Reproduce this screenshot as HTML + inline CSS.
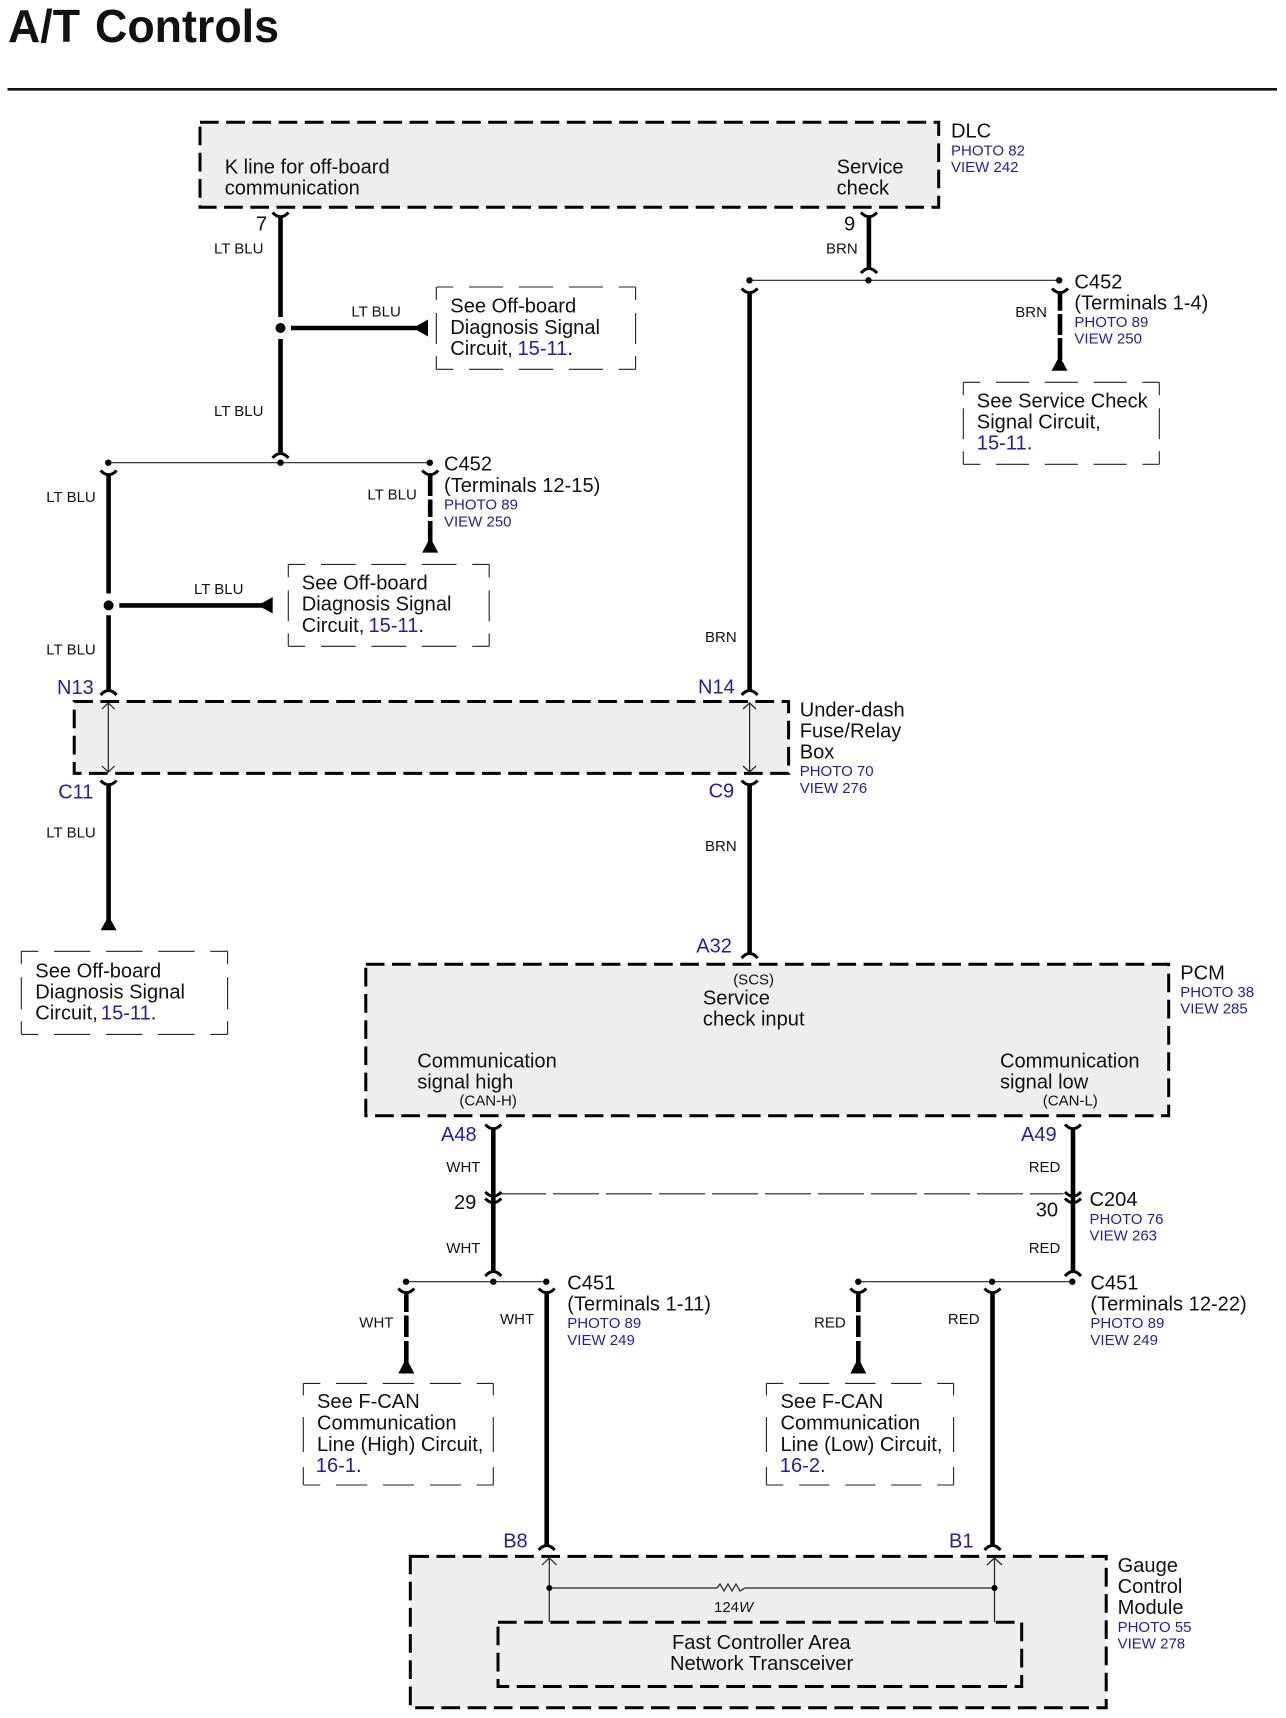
<!DOCTYPE html>
<html><head><meta charset="utf-8"><style>
html,body{margin:0;padding:0;background:#fff}
svg{display:block}
text{font-family:"Liberation Sans",sans-serif;fill:#111}
.t{font-size:46px;font-weight:bold}
.m{font-size:20.1px}
.s{font-size:15px;transform:translateY(-0.8px)}
.b{font-size:15px;fill:#1f1fa8}
.n{font-size:20px;fill:#1f1fa8}
tspan.l{fill:#1f1fa8}
.box{fill:#eee;stroke:#000;stroke-width:3;stroke-dasharray:18.7 7.5}
.note{fill:none;stroke:#222;stroke-width:1.1}
.w{stroke:#000;stroke-width:4.6;fill:none}
.c{stroke:#000;stroke-width:3;fill:none}
.h{stroke:#222;stroke-width:1.2;fill:none}
</style></head><body>
<svg width="1286" height="1718" viewBox="0 0 1286 1718" xmlns="http://www.w3.org/2000/svg">
<rect width="1286" height="1718" fill="#fff"/>
<text class="t" x="8" y="42" textLength="72" lengthAdjust="spacingAndGlyphs">A/T</text>
<text class="t" x="95" y="42" textLength="184" lengthAdjust="spacingAndGlyphs">Controls</text>
<line x1="7.5" y1="89.3" x2="1277" y2="89.3" stroke="#111" stroke-width="2.6"/>

<!-- boxes -->
<rect class="box" x="200" y="122.3" width="738.7" height="85"/>
<rect class="box" x="74.2" y="701.5" width="714.4" height="71.9"/>
<rect class="box" x="365.8" y="964.3" width="802.9" height="151.4"/>
<rect class="box" x="410.3" y="1556.4" width="695.9" height="151.4"/>
<rect class="box" x="498" y="1622.3" width="523.7" height="64.2"/>

<!-- note boxes -->
<path class="note" stroke-dasharray="17 15.7 34.2 15.7 34.2 15.7 34.2 15.7 30" d="M436.3 287H635.6M436.3 369.3H635.6"/>
<path class="note" stroke-dasharray="13 13 31 12 20" d="M436.3 287V369.3M635.6 287V369.3"/>
<path class="note" stroke-dasharray="17 15.7 33.1 15.7 33.1 15.7 33.1 15.7 30" d="M963.3 382.3H1159.3M963.3 464.3H1159.3"/>
<path class="note" stroke-dasharray="13 13 31 12 20" d="M963.3 382.3V464.3M1159.3 382.3V464.3"/>
<path class="note" stroke-dasharray="17 15.7 34.7 15.7 34.7 15.7 34.7 15.7 30" d="M288.3 564.4H489.2M288.3 646.3H489.2"/>
<path class="note" stroke-dasharray="13 13 31 12 20" d="M288.3 564.4V646.3M489.2 564.4V646.3"/>
<path class="note" stroke-dasharray="17 15.7 36.4 15.7 36.4 15.7 36.4 15.7 30" d="M21.3 951.3H227.6M21.3 1034.4H227.6"/>
<path class="note" stroke-dasharray="13 13 32 12 20" d="M21.3 951.3V1034.4M227.6 951.3V1034.4"/>
<path class="note" stroke-dasharray="17 15.7 31.2 15.7 31.2 15.7 31.2 15.7 30" d="M303.3 1383.4H493.3M303.3 1485H493.3"/>
<path class="note" stroke-dasharray="12 21.7 35 15 25" d="M303.3 1383.4V1485M493.3 1383.4V1485"/>
<path class="note" stroke-dasharray="17 15.7 30.3 15.7 30.3 15.7 30.3 15.7 30" d="M766.4 1383.4H953.6M766.4 1485H953.6"/>
<path class="note" stroke-dasharray="12 21.7 35 15 25" d="M766.4 1383.4V1485M953.6 1383.4V1485"/>

<!-- thin lines -->
<path class="h" d="M108.3 462.7H429.8M749.6 280.3H1059.2M406 1281.7H546.3M858.3 1281.7H1072.3"/>
<path class="h" stroke-width="0.9" stroke-dasharray="46 7" d="M500 1193.8H1063.6"/>
<path class="h" d="M108.3 703V772M102 709L108.3 703L114.6 709M102 766L108.3 772L114.6 766"/>
<path class="h" d="M749.6 703V772M743 709L749.6 703L756 709M743 766L749.6 772L756 766"/>
<path class="h" d="M549.3 1558V1622M542 1565L549.3 1558L556.6 1565M994.5 1558V1622M987 1565L994.5 1558L1002 1565"/>
<path class="h" d="M549.3 1588H717L720 1584L724 1591L728 1584L732 1591L736 1584L740 1591L745 1588H994.5"/>

<!-- dots -->
<g fill="#000">
<circle cx="280.5" cy="328" r="5"/><circle cx="108.6" cy="605.4" r="5"/>
<circle cx="280.5" cy="462.7" r="3.2"/><circle cx="108.3" cy="462.7" r="3.2"/><circle cx="429.8" cy="462.7" r="3.2"/>
<circle cx="749.4" cy="280.3" r="3.2"/><circle cx="868.5" cy="280.3" r="3.2"/><circle cx="1059.2" cy="280.3" r="3.2"/>
<circle cx="406" cy="1281.7" r="3.2"/><circle cx="493.3" cy="1281.7" r="3.2"/><circle cx="546.3" cy="1281.7" r="3.2"/>
<circle cx="858.3" cy="1281.7" r="3.2"/><circle cx="992.1" cy="1281.7" r="3.2"/><circle cx="1072.3" cy="1281.7" r="3.2"/>
<circle cx="549.3" cy="1588" r="3"/><circle cx="994.5" cy="1588" r="3"/>
<!-- triangles -->
<polygon points="413,328 428,319.5 428,336.5"/>
<polygon points="258,605.4 272.7,597 272.7,613.5"/>
<polygon points="430.2,537.5 422.2,552.6 438.2,552.6"/>
<polygon points="1059.5,356 1051.5,370.7 1067.5,370.7"/>
<polygon points="108.6,916 100.6,930.3 116.6,930.3"/>
<polygon points="406.3,1358 398.3,1373.5 414.3,1373.5"/>
<polygon points="858.3,1358 850.3,1373.5 866.3,1373.5"/>
</g>

<!-- heavy wires -->
<path class="w" d="M280.5 218V317M280.5 339V455"/>
<path class="w" d="M291 328H418"/>
<path class="w" d="M868.9 218V270"/>
<path class="w" d="M108.6 475V593.5M108.6 615.3V692M119.3 605.4H263"/>
<path class="w" d="M108.6 786V923"/>
<path class="w" d="M749.6 293V692M749.6 786V955"/>
<path class="w" d="M430.2 475V496M430.2 499.5V517M430.2 521V542"/>
<path class="w" d="M1060 293V310.7M1060 314V335M1060 338V360"/>
<path class="w" d="M493.3 1130V1273"/>
<path class="w" d="M1073 1130V1273"/>
<path class="w" d="M406.3 1293V1312M406.3 1315.5V1337M406.3 1341V1363"/>
<path class="w" d="M858.3 1293V1312M858.3 1315.5V1337M858.3 1341V1363"/>
<path class="w" d="M546.7 1294V1547M992.5 1294V1547"/>

<!-- connector caps: Y / arc -->
<path class="c" d="M272.5 212.5Q280.5 221 288.5 212.5M861 212.5Q869 221 877 212.5"/>
<path class="c" d="M272.5 458Q280.5 449 288.5 458M861 273Q869 264 877 273"/>
<path class="c" d="M100.6 470.5Q108.6 479 116.6 470.5M422.2 470.5Q430.2 479 438.2 470.5M741.6 288.5Q749.6 297 757.6 288.5M1052 288.5Q1060 297 1068 288.5"/>
<path class="c" d="M100.6 695Q108.6 686 116.6 695M741.6 695Q749.6 686 757.6 695"/>
<path class="c" d="M100.6 780.5Q108.6 789 116.6 780.5M741.6 780.5Q749.6 789 757.6 780.5"/>
<path class="c" d="M741.6 958Q749.6 949 757.6 958"/>
<path class="c" d="M485.3 1124.5Q493.3 1133 501.3 1124.5M1065 1124.5Q1073 1133 1081 1124.5"/>
<path class="c" d="M485.3 1192Q493.3 1200.5 501.3 1192M485.3 1198.5Q493.3 1207 501.3 1198.5M1065 1192Q1073 1200.5 1081 1192M1065 1198.5Q1073 1207 1081 1198.5"/>
<path class="c" d="M485.3 1276Q493.3 1267 501.3 1276M1065 1276Q1073 1267 1081 1276"/>
<path class="c" d="M398.3 1288.5Q406.3 1297 414.3 1288.5M538.7 1288.5Q546.7 1297 554.7 1288.5M850.3 1288.5Q858.3 1297 866.3 1288.5M984.5 1288.5Q992.5 1297 1000.5 1288.5"/>
<path class="c" d="M538.7 1550Q546.7 1541 554.7 1550M984.5 1550Q992.5 1541 1000.5 1550"/>

<!-- text: DLC -->
<text class="m" x="224.7" y="173.3">K line for off-board</text>
<text class="m" x="224.7" y="194.3">communication</text>
<text class="m" x="836.6" y="173.3">Service</text>
<text class="m" x="836.6" y="194.3">check</text>
<text class="m" x="951" y="137.7">DLC</text>
<text class="b" x="951" y="155.3">PHOTO 82</text>
<text class="b" x="951" y="172">VIEW 242</text>
<text class="m" x="256" y="230.7">7</text>
<text class="m" x="844" y="230.7">9</text>
<text class="s" x="214" y="254.3">LT BLU</text>
<text class="s" x="826" y="254.3">BRN</text>
<text class="s" x="351.4" y="317.3">LT BLU</text>
<text class="s" x="214" y="416.7">LT BLU</text>

<text class="m" x="450.3" y="312.7">See Off-board</text>
<text class="m" x="450.3" y="334">Diagnosis Signal</text>
<text class="m" x="450.3" y="355">Circuit,<tspan class="l" x="517.5">15-11</tspan>.</text>

<text class="m" x="1074.4" y="288.3">C452</text>
<text class="m" x="1074.4" y="309.7">(Terminals 1-4)</text>
<text class="b" x="1074.4" y="327">PHOTO 89</text>
<text class="b" x="1074.4" y="343.7">VIEW 250</text>
<text class="s" x="1015.3" y="317.7">BRN</text>
<text class="m" x="976.8" y="407.3">See Service Check</text>
<text class="m" x="976.8" y="428.3">Signal Circuit,</text>
<text class="m" x="976.8" y="449.3"><tspan class="l">15-11</tspan>.</text>

<text class="m" x="444" y="470.7">C452</text>
<text class="m" x="444" y="492">(Terminals 12-15)</text>
<text class="b" x="444" y="509.3">PHOTO 89</text>
<text class="b" x="444" y="526.5">VIEW 250</text>
<text class="s" x="46.3" y="502.8">LT BLU</text>
<text class="s" x="367.4" y="500.5">LT BLU</text>
<text class="s" x="194" y="594.7">LT BLU</text>
<text class="s" x="46.3" y="655.5">LT BLU</text>
<text class="s" x="46.3" y="838.4">LT BLU</text>
<text class="s" x="705" y="643">BRN</text>
<text class="s" x="705" y="851.7">BRN</text>

<text class="m" x="301.8" y="589.7">See Off-board</text>
<text class="m" x="301.8" y="610.7">Diagnosis Signal</text>
<text class="m" x="301.8" y="631.8">Circuit,<tspan class="l" x="368.5">15-11</tspan>.</text>

<text class="n" x="57" y="693.8">N13</text>
<text class="n" x="698" y="693.3">N14</text>
<text class="n" x="58.2" y="798.3">C11</text>
<text class="n" x="708.6" y="797.7">C9</text>
<text class="n" x="696.3" y="952.7">A32</text>

<text class="m" x="799.7" y="716.3">Under-dash</text>
<text class="m" x="799.7" y="737.3">Fuse/Relay</text>
<text class="m" x="799.7" y="758.3">Box</text>
<text class="b" x="799.7" y="776">PHOTO 70</text>
<text class="b" x="799.7" y="793">VIEW 276</text>

<text class="m" x="35.3" y="977.4">See Off-board</text>
<text class="m" x="35.3" y="998.4">Diagnosis Signal</text>
<text class="m" x="35.3" y="1019.5">Circuit,<tspan class="l" x="100.9">15-11</tspan>.</text>

<!-- PCM -->
<text class="s" x="733.2" y="985.5">(SCS)</text>
<text class="m" x="702.9" y="1004.7">Service</text>
<text class="m" x="702.9" y="1025.7">check input</text>
<text class="m" x="417.2" y="1067.4">Communication</text>
<text class="m" x="417.2" y="1088.4">signal high</text>
<text class="s" x="459.4" y="1106.5">(CAN-H)</text>
<text class="m" x="1000" y="1067.4">Communication</text>
<text class="m" x="1000" y="1088.4">signal low</text>
<text class="s" x="1042.8" y="1106.5">(CAN-L)</text>
<text class="m" x="1180.2" y="979.3">PCM</text>
<text class="b" x="1180.2" y="997">PHOTO 38</text>
<text class="b" x="1180.2" y="1013.7">VIEW 285</text>

<!-- lower -->
<text class="n" x="441" y="1141">A48</text>
<text class="n" x="1021" y="1141">A49</text>
<text class="s" x="446.3" y="1173">WHT</text>
<text class="s" x="1028.7" y="1173">RED</text>
<text class="m" x="454" y="1208.8">29</text>
<text class="m" x="1035.7" y="1216.7">30</text>
<text class="m" x="1089.5" y="1206">C204</text>
<text class="b" x="1089.5" y="1224">PHOTO 76</text>
<text class="b" x="1089.5" y="1240.7">VIEW 263</text>
<text class="s" x="446.3" y="1254">WHT</text>
<text class="s" x="1028.7" y="1254">RED</text>

<text class="m" x="567.3" y="1289.5">C451</text>
<text class="m" x="567.3" y="1310.5">(Terminals 1-11)</text>
<text class="b" x="567.3" y="1328.2">PHOTO 89</text>
<text class="b" x="567.3" y="1345">VIEW 249</text>
<text class="m" x="1090.4" y="1289.5">C451</text>
<text class="m" x="1090.4" y="1310.5">(Terminals 12-22)</text>
<text class="b" x="1090.4" y="1328.2">PHOTO 89</text>
<text class="b" x="1090.4" y="1345">VIEW 249</text>
<text class="s" x="359.3" y="1328.2">WHT</text>
<text class="s" x="500" y="1325">WHT</text>
<text class="s" x="814" y="1328.2">RED</text>
<text class="s" x="947.9" y="1325">RED</text>

<text class="m" x="317" y="1408.2">See F-CAN</text>
<text class="m" x="317" y="1429.5">Communication</text>
<text class="m" x="317" y="1450.8">Line (High) Circuit,</text>
<text class="m" x="315.8" y="1472"><tspan class="l">16-1</tspan>.</text>
<text class="m" x="780.5" y="1408.2">See F-CAN</text>
<text class="m" x="780.5" y="1429.5">Communication</text>
<text class="m" x="780.5" y="1450.8">Line (Low) Circuit,</text>
<text class="m" x="779.8" y="1472"><tspan class="l">16-2</tspan>.</text>

<text class="n" x="503.2" y="1547.4">B8</text>
<text class="n" x="949" y="1547.4">B1</text>
<text class="s" x="714" y="1613">124<tspan font-style="italic">W</tspan></text>
<text class="m" x="672" y="1649">Fast Controller Area</text>
<text class="m" x="670" y="1670">Network Transceiver</text>
<text class="m" x="1117.6" y="1572.2">Gauge</text>
<text class="m" x="1117.6" y="1593">Control</text>
<text class="m" x="1117.6" y="1614">Module</text>
<text class="b" x="1117.6" y="1632">PHOTO 55</text>
<text class="b" x="1117.6" y="1648.7">VIEW 278</text>
</svg>
</body></html>
